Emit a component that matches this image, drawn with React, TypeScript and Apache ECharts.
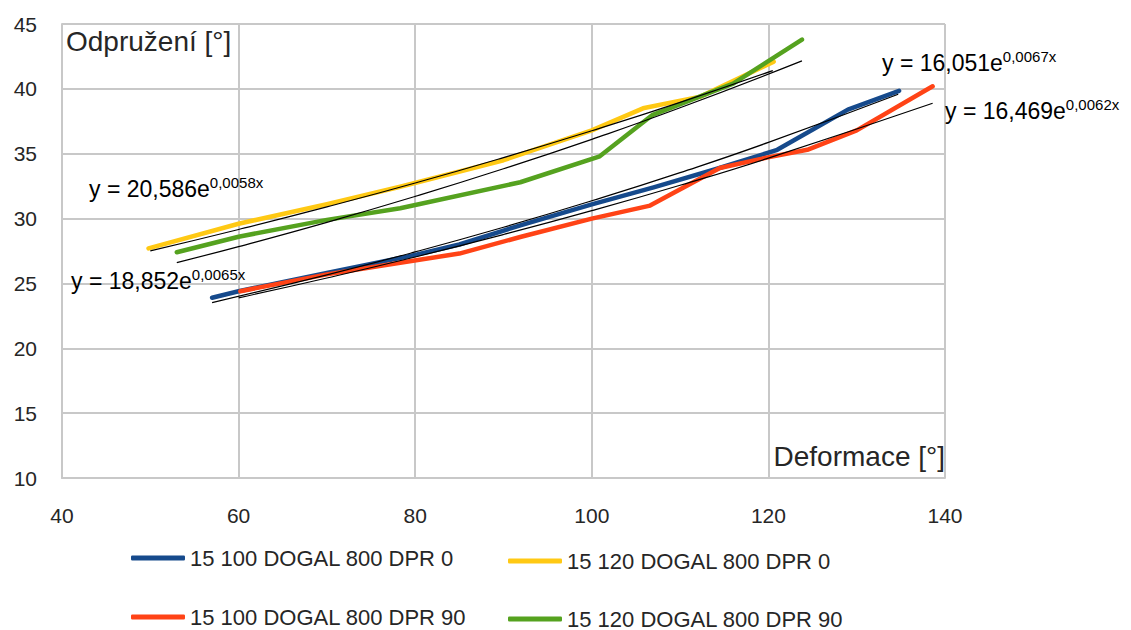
import React, { useEffect, useRef } from "react";
import * as echarts from "echarts";

// Measured series (x = Deformace [°], y = Odpružení [°])
const blueX = [57, 60, 70, 80, 85, 92, 100, 107, 114, 121, 129, 134.8];
const blueY = [23.9, 24.4, 25.8, 27.2, 28.0, 29.5, 31.1, 32.4, 33.8, 35.3, 38.4, 39.85];

const redX = [60.2, 70, 78.3, 85, 92, 100, 106.6, 114.5, 119.8, 124.4, 130, 138.6];
const redY = [24.4, 25.7, 26.6, 27.3, 28.6, 30.0, 31.0, 33.9, 34.7, 35.3, 36.8, 40.2];

const yellowX = [49.8, 60, 70, 78.3, 90, 100, 105.8, 112.3, 120.6];
const yellowY = [27.7, 29.6, 31.1, 32.45, 34.5, 36.8, 38.5, 39.4, 42.1];

const greenX = [53, 60, 70, 78.3, 91.9, 100.9, 106.9, 116, 123.8];
const greenY = [27.4, 28.6, 29.9, 30.8, 32.8, 34.8, 38.0, 40.4, 43.8];

// Exponential trend lines (values as drawn on the picture)
const trendBlueX = [57, 70, 80, 90, 100, 110, 120, 134.7];
const trendBlueY = [23.52, 25.66, 27.43, 29.33, 31.37, 33.54, 35.87, 39.58];
const trendRedX = [60, 70, 80, 90, 100, 110, 120, 138.6];
const trendRedY = [23.89, 25.42, 27.04, 28.77, 30.61, 32.57, 34.66, 38.89];
const trendYellowX = [50, 60, 70, 80, 90, 100, 110, 120.5];
const trendYellowY = [27.51, 29.16, 30.9, 32.74, 34.7, 36.77, 38.96, 41.41];
const trendGreenX = [53, 60, 70, 80, 90, 100, 110, 123.8];
const trendGreenY = [26.61, 27.84, 29.71, 31.71, 33.84, 36.11, 38.54, 42.16];

const seriesNames = [
  "15 100 DOGAL 800 DPR 0",
  "15 120 DOGAL 800 DPR 0",
  "15 100 DOGAL 800 DPR 90",
  "15 120 DOGAL 800 DPR 90",
];

const equations = [
  { main: "y = 20,586e", sup: "0,0058x", x: 89, y: 175 },
  { main: "y = 18,852e", sup: "0,0065x", x: 71, y: 267 },
  { main: "y = 16,051e", sup: "0,0067x", x: 882, y: 49 },
  { main: "y = 16,469e", sup: "0,0062x", x: 945, y: 97 },
];

const zip = (xs: number[], ys: number[]) => xs.map((x, i) => [x, ys[i]]);

const COLORS = {
  blue: "#164a8c",
  yellow: "#ffc914",
  red: "#ff4316",
  green: "#55a21f",
};

const FONT = "Liberation Sans, Arial, sans-serif";
const TXT = "#262626";

export default function App() {
  const ref = useRef<HTMLDivElement>(null);

  useEffect(() => {
    if (!ref.current) return;
    const chart = echarts.init(ref.current, undefined, { renderer: "svg" });

    const dataLine = (name: string, xs: number[], ys: number[], color: string) => ({
      name,
      type: "line",
      data: zip(xs, ys),
      showSymbol: false,
      symbol: "none",
      color,
      lineStyle: { width: 4.5, color, cap: "round", join: "round" },
      z: 2,
    });
    const trendLine = (xs: number[], ys: number[]) => ({
      name: "trend",
      type: "line",
      data: zip(xs, ys),
      showSymbol: false,
      symbol: "none",
      smooth: true,
      lineStyle: { width: 1.2, color: "#000" },
      z: 3,
      silent: true,
    });

    const legendItem = (name: string, left: number, top: number) => ({
      orient: "horizontal",
      icon: "roundRect",
      itemWidth: 54,
      itemHeight: 5,
      padding: 0,
      left,
      top,
      data: [name],
      textStyle: { fontFamily: FONT, fontSize: 22, color: TXT },
    });

    chart.setOption({
      animation: false,
      backgroundColor: "#fff",
      grid: { left: 62, right: 186, top: 24, bottom: 152, containLabel: false },
      xAxis: {
        type: "value",
        min: 40,
        max: 140,
        interval: 20,
        name: "Deformace [°]",
        nameLocation: "end",
        nameGap: 0,
        nameTextStyle: {
          fontFamily: FONT,
          fontSize: 28,
          color: TXT,
          align: "right",
          verticalAlign: "bottom",
          padding: [0, 0, 8, 0],
        },
        axisLine: { show: true, lineStyle: { color: "#c8c8c8", width: 2 } },
        axisTick: { show: false },
        axisLabel: { fontFamily: FONT, fontSize: 21, color: TXT, margin: 27 },
        splitLine: { show: true, lineStyle: { color: "#c8c8c8", width: 2 } },
      },
      yAxis: {
        type: "value",
        min: 10,
        max: 45,
        interval: 5,
        name: "Odpružení [°]",
        nameLocation: "end",
        nameGap: -3,
        nameTextStyle: {
          fontFamily: FONT,
          fontSize: 28,
          color: TXT,
          align: "left",
          verticalAlign: "top",
          padding: [0, 0, 0, 4],
        },
        axisLine: { show: true, lineStyle: { color: "#c8c8c8", width: 2 } },
        axisTick: { show: false },
        axisLabel: { fontFamily: FONT, fontSize: 21, color: TXT, margin: 25 },
        splitLine: { show: true, lineStyle: { color: "#c8c8c8", width: 2 } },
      },
      legend: [
        legendItem(seriesNames[0], 131, 547),
        legendItem(seriesNames[1], 508, 550),
        legendItem(seriesNames[2], 131, 606),
        legendItem(seriesNames[3], 508, 608),
      ],
      series: [
        dataLine(seriesNames[0], blueX, blueY, COLORS.blue),
        dataLine(seriesNames[1], yellowX, yellowY, COLORS.yellow),
        dataLine(seriesNames[2], redX, redY, COLORS.red),
        dataLine(seriesNames[3], greenX, greenY, COLORS.green),
        trendLine(trendBlueX, trendBlueY),
        trendLine(trendRedX, trendRedY),
        trendLine(trendYellowX, trendYellowY),
        trendLine(trendGreenX, trendGreenY),
      ],
      graphic: equations.map((e) => ({
        type: "text",
        left: e.x,
        top: e.y,
        z: 10,
        style: {
          text: `{m|${e.main}}{s|${e.sup}}`,
          rich: {
            m: { fontFamily: FONT, fontSize: 23, lineHeight: 28, color: TXT },
            s: { fontFamily: FONT, fontSize: 15, lineHeight: 15, color: TXT, verticalAlign: "top" },
          },
        },
      })),
    });

    return () => chart.dispose();
  }, []);

  return (
    <div
      ref={ref}
      style={{ position: "fixed", left: 0, top: 0, width: 1131, height: 630 }}
    />
  );
}
